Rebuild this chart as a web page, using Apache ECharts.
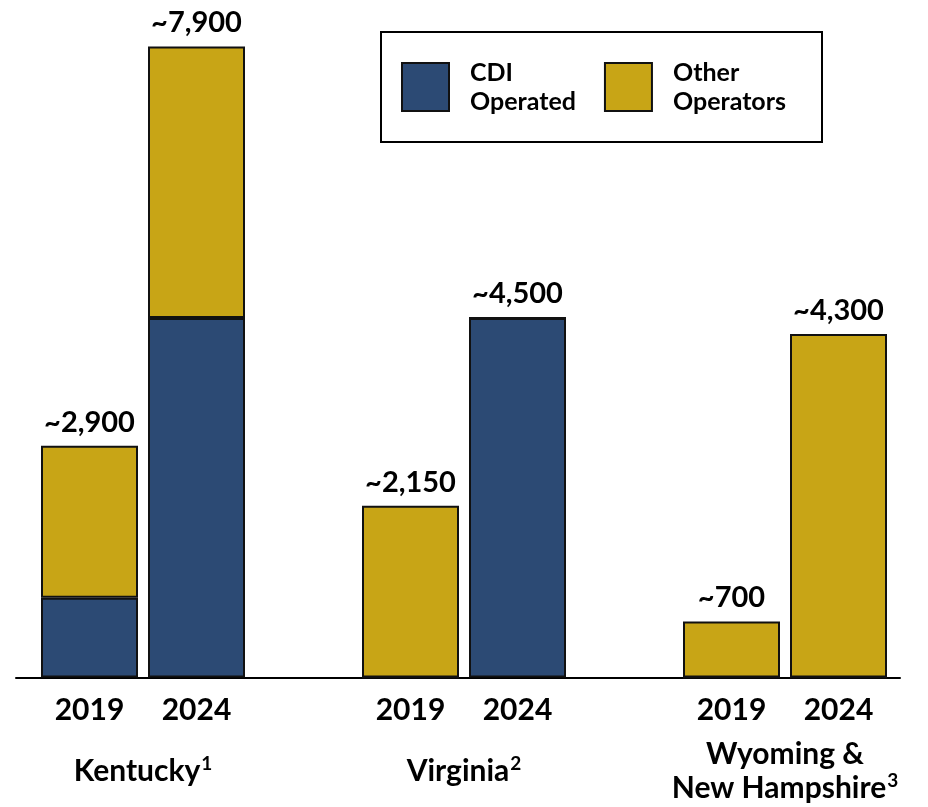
<!DOCTYPE html>
<html>
<head>
<meta charset="utf-8">
<script src="https://cdn.jsdelivr.net/npm/echarts@6/dist/echarts.min.js"></script>
<style>
html, body { margin: 0; padding: 0; background: #fff; }
#chart { width: 928px; height: 807px; }
</style>
</head>
<body>
<div id="chart"></div>
<script>
// 8 slots on the x axis: Kentucky | gap | Virginia | gap | Wyoming & NH
const categories = ['KY 2019', 'KY 2024', 'gap1', 'VA 2019', 'VA 2024', 'gap2', 'WY 2019', 'WY 2024']
const years = ['2019', '2024', '', '2019', '2024', '', '2019', '2024']
const groups = ['Kentucky', 'Virginia', 'Wyoming &\nNew Hampshire']
const groupNotes = ['1', '2', '3']
const groupSlots = [0.5, 3.5, 6.5]
const cdiOperated = [1000, 4500, '-', 0, 4500, '-', 0, 0]
const otherOperators = [1900, 3400, '-', 2150, 0, '-', 700, 4300]
const totalLabels = ['~2,900', '~7,900', '', '~2,150', '~4,500', '', '~700', '~4,300']

const NAVY = '#2c4a74'
const GOLD = '#c8a516'
const FONT = 'Lato'

function groupLabel (v) {
  const i = groupSlots.indexOf(v)
  if (i < 0) return ''
  const lines = groups[i].split('\n')
  return lines.map((l, k) => '{b|' + l + '}' + (k === lines.length - 1 ? '{s|' + groupNotes[i] + '}' : '')).join('\n')
}

const chart = echarts.init(document.getElementById('chart'))
const option = {
  animation: false,
  textStyle: { fontFamily: FONT },
  legend: {
    left: 381,
    top: 32,
    orient: 'horizontal',
    padding: [26, 36, 26, 20],
    borderColor: '#000',
    borderWidth: 2,
    itemWidth: 47,
    itemHeight: 48,
    itemGap: 28,
    icon: 'rect',
    textStyle: {
      fontFamily: FONT,
      fontWeight: 'bold',
      fontSize: 25,
      lineHeight: 29,
      color: '#000',
      padding: [0, 0, 0, 16]
    },
    data: ['CDI\nOperated', 'Other\nOperators']
  },
  grid: [
    // bars
    { left: 36, right: 36, top: 38.5, bottom: 129.5, outerBoundsMode: 'none' },
    // baseline, a little wider than the bars area
    { left: 16, right: 28, top: 38.5, bottom: 129.5, outerBoundsMode: 'none' }
  ],
  xAxis: [
    {
      type: 'category',
      gridIndex: 0,
      data: categories,
      axisTick: { show: false },
      axisLine: { show: false },
      axisLabel: {
        formatter: (v, i) => years[i],
        interval: 0,
        fontFamily: FONT,
        fontWeight: 'bold',
        fontSize: 30,
        color: '#000',
        margin: 18
      }
    },
    {
      type: 'value',
      gridIndex: 0,
      position: 'bottom',
      min: -0.5,
      max: 7.5,
      splitLine: { show: false },
      axisTick: { show: false },
      axisLine: { show: false },
      axisLabel: {
        customValues: groupSlots,
        formatter: groupLabel,
        verticalAlign: 'middle',
        margin: 94,
        rich: {
          b: { fontFamily: FONT, fontWeight: 'bold', fontSize: 30, lineHeight: 34, color: '#000' },
          s: { fontFamily: FONT, fontWeight: 'bold', fontSize: 19, lineHeight: 34, verticalAlign: 'top', color: '#000', padding: [0, 0, 10, 1] }
        }
      }
    },
    {
      type: 'value',
      gridIndex: 1,
      min: 0,
      max: 1,
      splitLine: { show: false },
      axisTick: { show: false },
      axisLabel: { show: false },
      axisLine: { show: true, lineStyle: { color: '#000', width: 2 } }
    }
  ],
  yAxis: [
    { type: 'value', gridIndex: 0, min: 0, max: 8000, show: false },
    { type: 'value', gridIndex: 1, min: 0, max: 1, show: false }
  ],
  series: [
    {
      name: 'CDI\nOperated',
      type: 'bar',
      stack: 'total',
      barWidth: 97,
      itemStyle: { color: NAVY, borderColor: '#111', borderWidth: 2 },
      data: cdiOperated
    },
    {
      name: 'Other\nOperators',
      type: 'bar',
      stack: 'total',
      barWidth: 97,
      itemStyle: { color: GOLD, borderColor: '#111', borderWidth: 2 },
      label: {
        show: true,
        position: 'top',
        distance: 9,
        formatter: p => totalLabels[p.dataIndex],
        fontFamily: FONT,
        fontWeight: 'bold',
        fontSize: 29,
        color: '#000'
      },
      data: otherOperators
    }
  ]
}
chart.setOption(option)
</script>
</body>
</html>
